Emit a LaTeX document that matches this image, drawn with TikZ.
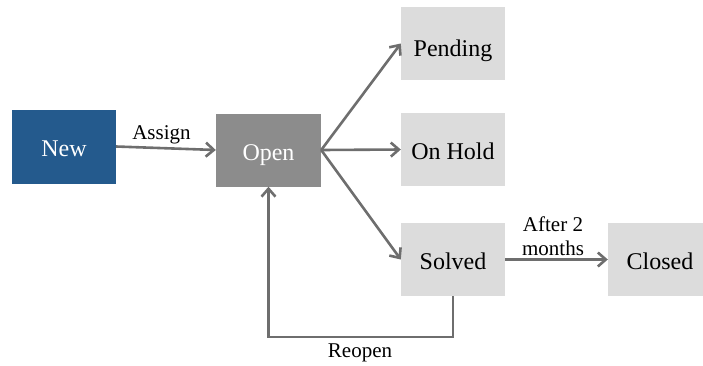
\documentclass[tikz,border=0pt]{standalone}
\usepackage{fontspec}
\setmainfont{Liberation Serif}
\usetikzlibrary{arrows.meta}
\definecolor{newblue}{HTML}{245A8D}
\definecolor{opengray}{HTML}{8C8C8C}
\definecolor{statebox}{HTML}{DCDCDC}
\definecolor{linegray}{HTML}{6E6E6E}
\begin{document}
\begin{tikzpicture}[x=1pt,y=-1pt,
  state/.style={rectangle, minimum width=104pt, minimum height=73pt, inner sep=0pt,
    text height=20pt, text depth=0pt,
    font=\fontsize{24}{28}\selectfont, fill=statebox, text=black},
  lbl/.style={font=\fontsize{21}{23.5}\selectfont, inner sep=0pt, align=center},
  arr/.style={draw=linegray, line width=2.6pt,
    -{Straight Barb[length=8pt,width=14pt,line width=2.6pt]}}]
  \useasboundingbox (0,0) rectangle (703,365);
  % states
  \node[state, fill=newblue, text=white, minimum height=74pt] (new) at (64,146.5) {New};
  \node[state, fill=opengray, text=white, minimum width=105pt] (open) at (268.5,150) {Open};
  \node[state, text height=26pt] (pending) at (453,43.5) {Pending};
  \node[state] (hold) at (453,149.5) {On Hold};
  \node[state] (solved) at (453,259.5) {Solved};
  \node[state] (closed) at (660,259.5) {Closed};
  % transitions
  \draw[arr] (new.east) -- (open.west);
  \draw[arr] (open.east) -- (pending.west);
  \draw[arr] (open.east) -- (hold.west);
  \draw[arr] (open.east) -- (solved.west);
  \draw[arr] (solved.east) -- (closed.west);
  \draw[arr] (solved.south) -- (solved.south |- 0,337) -| (open.south);
  % transition labels
  \node[lbl, anchor=base] (assign) at (161.5,139) {Assign};
  \node[lbl] (after) at (553,236) {After 2\\months};
  \node[lbl, anchor=base] (reopen) at (360,357) {Reopen};
\end{tikzpicture}
\end{document}
